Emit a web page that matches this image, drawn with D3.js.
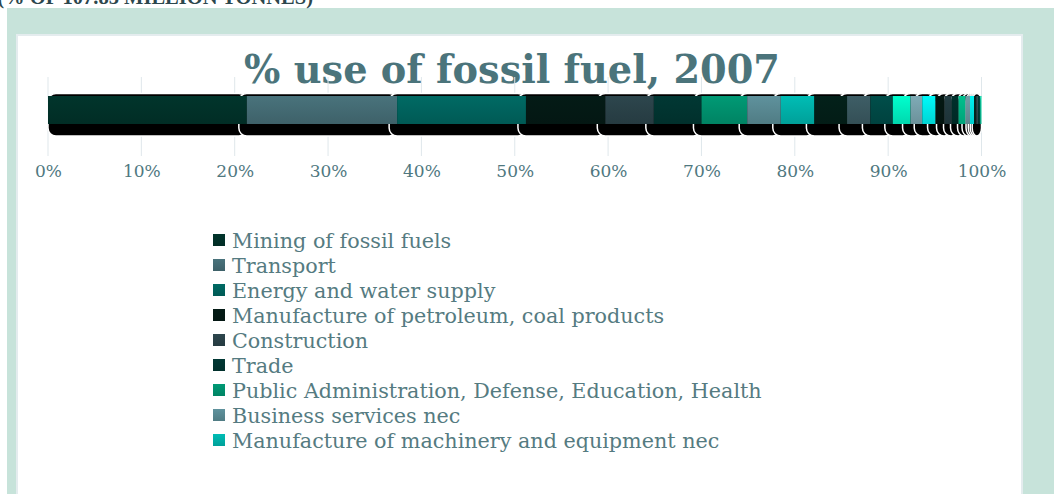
<!DOCTYPE html>
<html>
<head>
<meta charset="utf-8">
<script src="https://cdn.jsdelivr.net/npm/d3@7"></script>
<style>
  html, body { margin: 0; padding: 0; background: #ffffff; }
  svg { display: block; }
</style>
</head>
<body>
<svg id="chart" width="1054" height="494"></svg>
<script>
// Share of fossil fuel use by sector, 2007 (percent of 107.85 million tonnes)
const sectors = [
  "Mining of fossil fuels",
  "Transport",
  "Energy and water supply",
  "Manufacture of petroleum, coal products",
  "Construction",
  "Trade",
  "Public Administration, Defense, Education, Health",
  "Business services nec",
  "Manufacture of machinery and equipment nec",
  "Chemical, rubber, plastic products",
  "Mineral products nec",
  "Agriculture",
  "Food products",
  "Ferrous metals",
  "Manufacture of motor vehicles",
  "Recreational and other services",
  "Paper products, publishing",
  "Metal products",
  "Fishing",
  "Electronic equipment",
  "Textiles and wearing apparel",
  "Wood products",
  "Financial services",
  "Non-ferrous metals",
  "Other manufacturing"
];
const shares = [
  21.3, 16.1, 13.8, 8.5, 5.2, 5.1, 4.9, 3.6, 3.6,
  3.5, 2.5, 2.4, 1.9, 1.25, 1.43, 0.96, 0.75, 0.75, 0.75,
  0.48, 0.43, 0.24, 0.21, 0.21, 0.14
];
const palette = [
  "#01332a", "#466e77", "#006660", "#041a15", "#2b434a", "#013632",
  "#009470", "#5b8c96", "#00b5ad",
  "#032019", "#3b5a62", "#004b47", "#00f5c5", "#7aa4ae", "#00f0f0",
  "#041712", "#223a40", "#002e2a", "#00b888", "#6c96a0", "#00e8e8",
  "#062420", "#304a50", "#00403c", "#00d0a0"
];
const tickValues = [0, 10, 20, 30, 40, 50, 60, 70, 80, 90, 100];
const legendCount = 9;

const svg = d3.select("#chart");
const defs = svg.append("defs");

// vertical shading for each sector colour
palette.forEach((c, i) => {
  const g = defs.append("linearGradient")
    .attr("id", "grad" + i)
    .attr("x1", 0).attr("y1", 0).attr("x2", 0).attr("y2", 1);
  g.append("stop").attr("offset", "0%").attr("stop-color", d3.color(c).brighter(0.12));
  g.append("stop").attr("offset", "100%").attr("stop-color", d3.color(c).darker(0.35));
});

// frame
svg.append("rect").attr("x", 7).attr("y", 8).attr("width", 1054).attr("height", 494)
  .attr("fill", "#c7e3da");
svg.append("rect").attr("x", 17).attr("y", 35).attr("width", 1005).attr("height", 460)
  .attr("fill", "#ffffff").attr("stroke", "#e4ecee").attr("stroke-width", 2);

// subtitle running off the top edge
svg.append("text")
  .attr("x", 313).attr("y", 4)
  .attr("text-anchor", "end")
  .attr("font-family", "Liberation Serif, serif")
  .attr("font-weight", "bold")
  .attr("font-size", 20.5)
  .attr("fill", "#2c474d")
  .text("(% OF 107.85 MILLION TONNES)");

// title
const title = svg.append("text")
  .attr("x", 512).attr("y", 83)
  .attr("text-anchor", "middle")
  .attr("font-family", "DejaVu Serif, serif")
  .attr("font-weight", "bold")
  .attr("font-size", 40)
  .attr("fill", "#4b747b")
  .text("% use of fossil fuel, 2007");
const tw = title.node().getComputedTextLength();
title.attr("font-size", 40 * 536 / tw);

const x = d3.scaleLinear().domain([0, 100]).range([48, 981.5]);

// gridlines
svg.append("g").selectAll("line").data(tickValues).join("line")
  .attr("x1", d => x(d)).attr("x2", d => x(d))
  .attr("y1", 77).attr("y2", 156)
  .attr("stroke", "#dfe7eb").attr("stroke-width", 1);

// stacked segments
const ends = d3.cumsum(shares);
const segs = shares.map((v, i) => ({ i, v, x0: i ? ends[i - 1] : 0, x1: ends[i] }));

const barTop = 96, barBottom = 124;
const bars = svg.append("g");
segs.forEach(s => {
  const left = Math.max(x(s.x0) - 8, x(0));
  bars.append("rect")
    .attr("x", left).attr("y", barTop - 2.5)
    .attr("width", Math.max(x(s.x1) - left, 0.5))
    .attr("height", 136 - (barTop - 2.5))
    .attr("rx", 8).attr("ry", 8)
    .attr("fill", "#000000")
    .attr("stroke", "#ffffff").attr("stroke-width", 1.5);
});
bars.selectAll("rect.seg").data(segs).join("rect")
  .attr("class", "seg")
  .attr("x", d => x(d.x0))
  .attr("y", barTop)
  .attr("width", d => x(d.x1) - x(d.x0))
  .attr("height", barBottom - barTop)
  .attr("fill", d => `url(#grad${d.i})`);

// axis labels
const axis = d3.axisBottom(x).tickValues(tickValues).tickFormat(d => d + "%").tickSize(0);
const ax = svg.append("g").attr("transform", "translate(0,162)").call(axis);
ax.select(".domain").remove();
ax.selectAll("text")
  .attr("font-family", "DejaVu Serif, serif")
  .attr("font-size", 17)
  .attr("fill", "#4f787f");

// legend
const legend = svg.append("g");
const items = legend.selectAll("g").data(sectors.slice(0, legendCount)).join("g")
  .attr("transform", (d, i) => `translate(213,${240 + i * 25})`);
items.append("rect")
  .attr("x", 0).attr("y", -6).attr("width", 12).attr("height", 12)
  .attr("fill", (d, i) => `url(#grad${i})`);
items.append("text")
  .attr("x", 19).attr("y", 7.5)
  .attr("font-family", "DejaVu Serif, serif")
  .attr("font-size", 20.7)
  .attr("fill", "#557b81")
  .text(d => d);
</script>
</body>
</html>
